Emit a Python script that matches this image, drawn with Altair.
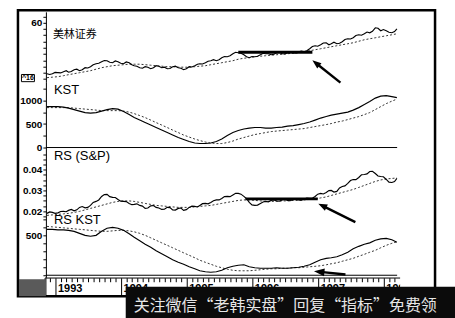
import altair as alt
import pandas as pd

# ---------------- data ----------------
_month = pd.date_range("1992-11-12", periods=65, freq=pd.DateOffset(months=1))
dates = [d.strftime("%Y-%m-%d") for d in _month]
mid_dates = [(d + pd.Timedelta(days=15)).strftime("%Y-%m-%d") for d in _month[:-1]]

price = [19.2, 19.2, 20.0, 20.8, 20.4, 22.4, 21.6, 24.0, 24.8, 27.2,
         28.8, 29.6, 28.0, 28.8, 27.2, 28.0, 25.6, 24.0, 24.8, 23.2,
         25.6, 24.0, 23.2, 24.8, 24.0, 22.4, 24.8, 25.6, 27.2, 28.0,
         29.6, 29.6, 32.0, 32.8, 35.2, 36.0, 34.4, 32.0, 32.8, 34.4,
         35.2, 34.4, 36.0, 35.2, 36.0, 36.0, 36.8, 36.8, 39.2, 41.6,
         42.4, 44.0, 43.2, 43.2, 44.8, 47.2, 48.0, 50.4, 51.2, 52.0,
         56.0, 53.6, 53.6, 52.0, 55.2]
price_mid = [18.6, 20.2, 19.8, 21.6, 21.0, 22.8, 22.4, 23.8, 26.4, 27.6,
             29.8, 28.4, 29.4, 27.6, 28.6, 26.4, 25.2, 23.6, 24.4, 24.0,
             25.2, 24.4, 23.4, 25.2, 23.6, 23.2, 24.6, 26.8, 27.0, 29.2,
             30.4, 30.4, 33.0, 33.6, 36.4, 35.6, 32.8, 33.0, 33.2, 35.6,
             35.2, 34.8, 36.4, 35.0, 36.6, 35.8, 37.4, 37.6, 41.0, 41.2,
             43.8, 42.4, 44.4, 43.6, 46.6, 47.0, 49.8, 50.0, 52.6, 53.2,
             55.6, 54.6, 52.4, 53.0]
price_ma = [16.0, 16.4, 16.8, 17.6, 18.4, 19.2, 20.0, 20.8, 21.6, 22.8,
            24.0, 24.8, 25.6, 26.0, 26.4, 26.8, 26.8, 26.8, 26.4, 26.0,
            25.6, 25.2, 24.8, 24.8, 24.4, 24.4, 24.4, 24.8, 25.2, 25.6,
            26.4, 27.2, 28.0, 28.8, 29.6, 30.8, 31.6, 32.0, 32.8, 33.2,
            33.6, 34.0, 34.4, 34.8, 35.2, 35.6, 36.0, 36.8, 37.6, 38.4,
            39.2, 40.0, 40.8, 41.6, 42.4, 43.2, 44.0, 45.2, 46.4, 47.2,
            48.0, 48.8, 49.6, 50.4, 51.2]
kst = [872, 872, 872, 862, 840, 809, 777, 745, 734, 745,
       777, 809, 830, 819, 766, 702, 638, 585, 532, 479,
       426, 372, 319, 266, 213, 170, 128, 96, 85, 85,
       96, 128, 181, 255, 319, 362, 394, 415, 426, 426,
       415, 415, 426, 436, 457, 468, 489, 511, 543, 585,
       628, 660, 691, 713, 734, 755, 798, 851, 915, 979,
       1053, 1096, 1106, 1085, 1064]
kst_ma = [851, 851, 851, 851, 851, 840, 830, 819, 809, 798,
          787, 787, 787, 787, 777, 755, 723, 681, 638, 585,
          532, 479, 426, 372, 319, 266, 223, 181, 149, 117,
          96, 85, 85, 106, 138, 181, 213, 245, 277, 298,
          319, 340, 351, 362, 372, 383, 394, 404, 426, 447,
          468, 489, 511, 543, 564, 596, 628, 660, 702, 745,
          809, 872, 936, 989, 1032]
rs = [0.01889, 0.01937, 0.01913, 0.01986, 0.02034, 0.02010, 0.02179, 0.02155, 0.02275, 0.02469,
      0.02710, 0.02807, 0.02662, 0.02565, 0.02469, 0.02372, 0.02324, 0.02275, 0.02130, 0.02251,
      0.02179, 0.02082, 0.02179, 0.02058, 0.02130, 0.02034, 0.02179, 0.02227, 0.02275, 0.02372,
      0.02420, 0.02541, 0.02614, 0.02710, 0.02783, 0.02855, 0.02710, 0.02420, 0.02275, 0.02372,
      0.02469, 0.02517, 0.02493, 0.02541, 0.02517, 0.02565, 0.02541, 0.02589, 0.02614, 0.02710,
      0.02855, 0.02903, 0.03000, 0.02952, 0.03193, 0.03338, 0.03531, 0.03628, 0.03773, 0.03918,
      0.03821, 0.03676, 0.03531, 0.03386, 0.03580]
rs_mid = [0.01960, 0.01890, 0.01980, 0.01970, 0.02080, 0.02060, 0.02220, 0.02180, 0.02420, 0.02540,
          0.02800, 0.02700, 0.02660, 0.02480, 0.02460, 0.02310, 0.02350, 0.02240, 0.02150, 0.02270,
          0.02150, 0.02090, 0.02170, 0.02050, 0.02150, 0.02070, 0.02240, 0.02200, 0.02360, 0.02350,
          0.02500, 0.02540, 0.02700, 0.02700, 0.02860, 0.02820, 0.02600, 0.02300, 0.02290, 0.02440,
          0.02450, 0.02540, 0.02480, 0.02560, 0.02500, 0.02590, 0.02530, 0.02630, 0.02620, 0.02820,
          0.02830, 0.02990, 0.02920, 0.03120, 0.03220, 0.03480, 0.03520, 0.03760, 0.03800, 0.03930,
          0.03700, 0.03660, 0.03400, 0.03430]
rs_ma = [0.01792, 0.01816, 0.01841, 0.01865, 0.01889, 0.01937, 0.01986, 0.02058, 0.02130, 0.02203,
         0.02275, 0.02348, 0.02420, 0.02469, 0.02493, 0.02493, 0.02469, 0.02420, 0.02372, 0.02324,
         0.02275, 0.02251, 0.02227, 0.02203, 0.02179, 0.02179, 0.02179, 0.02203, 0.02227, 0.02251,
         0.02275, 0.02324, 0.02372, 0.02420, 0.02469, 0.02517, 0.02541, 0.02541, 0.02517, 0.02493,
         0.02469, 0.02469, 0.02469, 0.02493, 0.02493, 0.02517, 0.02517, 0.02541, 0.02565, 0.02589,
         0.02638, 0.02686, 0.02758, 0.02831, 0.02903, 0.02976, 0.03048, 0.03145, 0.03242, 0.03338,
         0.03435, 0.03507, 0.03556, 0.03580, 0.03604]
rs_kst = [575, 575, 569, 569, 562, 550, 525, 500, 488, 500,
          550, 588, 600, 588, 562, 519, 475, 431, 388, 350,
          306, 269, 231, 194, 162, 138, 106, 81, 56, 44,
          38, 44, 62, 94, 112, 125, 131, 106, 94, 88,
          88, 88, 94, 88, 88, 94, 100, 112, 131, 162,
          194, 212, 219, 231, 256, 288, 331, 362, 388, 406,
          438, 456, 462, 444, 412]
rs_kst_ma = [612, 606, 600, 594, 588, 581, 575, 569, 562, 556,
             550, 550, 556, 562, 562, 556, 544, 525, 500, 469,
             438, 406, 375, 344, 312, 281, 250, 219, 188, 162,
             138, 112, 94, 75, 62, 56, 56, 56, 62, 69,
             75, 81, 81, 88, 88, 94, 94, 100, 106, 112,
             119, 131, 144, 156, 175, 194, 212, 238, 262, 288,
             312, 344, 375, 400, 419]

years = ["1993", "1994", "1995", "1996", "1997", "1998"]
year_dates = [f"{y}-01-01" for y in years]
month_dates = [d.strftime("%Y-%m-%d") for d in pd.date_range("1992-11-01", "1998-03-01", freq="MS") if d.month != 1]

titles = ["美林证券", "KST", "RS (S&P)", "RS KST"]
price_box_label = "^16"
watermark = "关注微信“老韩实盘”回复“指标”免费领"

# horizontal resistance lines
price_res_dates = ["1995-10-12", "1996-11-27"]
price_res_value = 36.4
rs_res_dates = ["1995-11-21", "1996-12-27"]
rs_res_value = 0.0259

# arrows: tail -> tip
price_arrow = {"tail_date": "1997-05-02", "tail": 12.0, "tip_date": "1996-11-27", "tip": 30.0}
rs_arrow = {"tail_date": "1997-07-24", "tail": 0.01469, "tip_date": "1996-12-30", "tip": 0.02357}
rskst_arrow = {"tail_date": "1997-05-30", "tail": 8.75, "tip_date": "1996-12-06", "tip": 50.0}

# ---------------- chart ----------------
W = 355
FONT = "Liberation Sans"

xscale = alt.Scale(type="utc", domain=[alt.DateTime(year=1992, month=11, date=6, utc=True),
                                        alt.DateTime(year=1998, month=3, date=30, utc=True)])

df = pd.DataFrame({"date": dates, "price": price, "price_ma": price_ma, "kst": kst, "kst_ma": kst_ma,
                   "rs": rs, "rs_ma": rs_ma, "rs_kst": rs_kst, "rs_kst_ma": rs_kst_ma})
# semi-monthly frame for the jagged price / relative-strength lines
df_semi = pd.concat([
    pd.DataFrame({"date": dates, "price": price, "rs": rs}),
    pd.DataFrame({"date": mid_dates, "price": price_mid, "rs": rs_mid}),
]).sort_values("date").reset_index(drop=True)

one = pd.DataFrame({"a": [0]})


def yaxis(values, expr):
    return alt.Axis(values=values, labelExpr=expr, tickSize=3, tickColor="black", tickWidth=1,
                    domainColor="black", domainWidth=1, labelFont=FONT, labelFontSize=10,
                    labelFontWeight="bold", labelColor="black", labelPadding=1, labelOverlap=False,
                    labelFlush=False, grid=False, title=None)


def series(col, ma_col, yscale, axis, line_df):
    ma = alt.Chart(df).mark_line(color="#333", strokeWidth=1, strokeDash=[2, 2]).encode(
        x=alt.X("date:T", scale=xscale, axis=None),
        y=alt.Y(f"{ma_col}:Q", scale=yscale, axis=axis))
    ln = alt.Chart(line_df).mark_line(color="black", strokeWidth=1.15).encode(
        x=alt.X("date:T", scale=xscale, axis=None),
        y=alt.Y(f"{col}:Q", scale=yscale, axis=axis))
    return [ma, ln]


def title_layer(text, x, y, size, font):
    return alt.Chart(pd.DataFrame({"t": [text]})).mark_text(
        align="left", baseline="middle", font=font, fontSize=size, color="black").encode(
        text="t:N", x=alt.value(x), y=alt.value(y))


def res_layer(ds, v, yscale, axis):
    d = pd.DataFrame({"t0": [ds[0]], "t1": [ds[1]], "v": [v]})
    return alt.Chart(d).mark_rule(color="black", strokeWidth=2.8).encode(
        x=alt.X("t0:T", scale=xscale, axis=None), x2="t1:T",
        y=alt.Y("v:Q", scale=yscale, axis=axis))


def arrow_layers(a, yscale, axis, size, angle):
    tip_t = pd.Timestamp(a["tip_date"])
    tail_t = pd.Timestamp(a["tail_date"])
    neck_t = tip_t + (tail_t - tip_t) * 0.2
    neck_v = a["tip"] + (a["tail"] - a["tip"]) * 0.2
    d = pd.DataFrame({"t0": [a["tail_date"]], "v0": [a["tail"]],
                      "t1": [neck_t.strftime("%Y-%m-%d")], "v1": [neck_v],
                      "tt": [a["tip_date"]], "tv": [a["tip"]]})
    shaft = alt.Chart(d).mark_rule(color="black", strokeWidth=2.4).encode(
        x=alt.X("t0:T", scale=xscale, axis=None), x2="t1:T",
        y=alt.Y("v0:Q", scale=yscale, axis=axis), y2="v1:Q")
    head = alt.Chart(d).mark_point(shape="M0,0L0.75,2L-0.75,2Z", filled=True, color="black",
                                   opacity=1, size=size, angle=angle).encode(
        x=alt.X("tt:T", scale=xscale, axis=None),
        y=alt.Y("tv:Q", scale=yscale, axis=axis))
    return [shaft, head]


def hline(col_val, yscale, axis):
    d = pd.DataFrame({"z": [col_val]})
    return alt.Chart(d).mark_rule(color="black", strokeWidth=1).encode(
        x=alt.value(0), x2=alt.value(352), y=alt.Y("z:Q", scale=yscale, axis=axis))


# panel 1: price
s1 = alt.Scale(domain=[12.8, 68.8], nice=False, zero=False)
a1 = yaxis(list(range(15, 70, 5)), "datum.value == 60 ? '60' : ''")
frame = alt.Chart(one).mark_rect(fillOpacity=0, stroke="black", strokeWidth=2.5).encode(
    x=alt.value(-28), x2=alt.value(390), y=alt.value(-1.5), y2=alt.value(285))
box = alt.Chart(one).mark_rect(fill="white", stroke="black", strokeWidth=1).encode(
    x=alt.value(-24.5), x2=alt.value(-11.5), y=alt.value(62.8), y2=alt.value(70))
box_text = alt.Chart(pd.DataFrame({"t": [price_box_label]})).mark_text(
    font=FONT, fontSize=7, fontWeight="bold", align="center", baseline="middle").encode(
    text="t:N", x=alt.value(-18), y=alt.value(66.5))
p1 = alt.layer(
    frame,
    *series("price", "price_ma", s1, a1, df_semi),
    res_layer(price_res_dates, price_res_value, s1, a1),
    *arrow_layers(price_arrow, s1, a1, 81, 309),
    title_layer(titles[0], 7, 23, 11, "Noto Sans CJK SC"),
    box, box_text,
).properties(width=W, height=70)

# panel 2: KST
s2 = alt.Scale(domain=[-85, 1404], nice=False, zero=False)
a2 = yaxis(list(range(0, 1401, 250)), "datum.value % 500 == 0 ? format(datum.value, 'd') : ''")
p2 = alt.layer(
    *series("kst", "kst_ma", s2, a2, df),
    hline(0, s2, a2),
    title_layer(titles[1], 8, 8, 13, FONT),
).properties(width=W, height=70)

# panel 3: RS (S&P)
s3 = alt.Scale(domain=[0.01744, 0.04884], nice=False, zero=False)
rs_ticks = [round(0.0175 + 0.0025 * i, 4) for i in range(13)]
a3 = yaxis(rs_ticks, "abs(datum.value*100 - round(datum.value*100)) < 0.001 ? format(datum.value, '.2f') : ''")
p3 = alt.layer(
    *series("rs", "rs_ma", s3, a3, df_semi),
    res_layer(rs_res_dates, rs_res_value, s3, a3),
    *arrow_layers(rs_arrow, s3, a3, 81, 296),
    title_layer(titles[2], 8, 5, 13, FONT),
).properties(width=W, height=65)

# panel 4: RS KST
s4 = alt.Scale(domain=[-25, 737.5], nice=False, zero=False)
a4 = yaxis(list(range(0, 701, 100)), "datum.value == 500 ? '500' : ''")
p4 = alt.layer(
    *series("rs_kst", "rs_kst_ma", s4, a4, df),
    hline(0, s4, a4),
    *arrow_layers(rskst_arrow, s4, a4, 110, 276),
    title_layer(titles[3], 8, 4, 13, FONT),
).properties(width=W, height=61)

# panel 5: time axis band (+ watermark banner)
top_line = alt.Chart(one).mark_rule(color="black", strokeWidth=1).encode(
    x=alt.value(0), x2=alt.value(355), y=alt.value(0.8))
left_line = alt.Chart(one).mark_rule(color="black", strokeWidth=1).encode(
    x=alt.value(0), y=alt.value(0), y2=alt.value(19))
month_ticks = alt.Chart(pd.DataFrame({"date": month_dates})).mark_rule(color="black", strokeWidth=1).encode(
    x=alt.X("date:T", scale=xscale, axis=None), y=alt.value(1), y2=alt.value(5))
ydf = pd.DataFrame({"date": year_dates, "label": years})
year_lines = alt.Chart(ydf).mark_rule(color="black", strokeWidth=1).encode(
    x=alt.X("date:T", scale=xscale, axis=None), y=alt.value(1), y2=alt.value(19))
year_labels = alt.Chart(ydf).mark_text(align="left", baseline="alphabetic", dx=2, font=FONT,
                                       fontSize=11, fontWeight="bold", color="black", clip=True).encode(
    x=alt.X("date:T", scale=xscale, axis=None), y=alt.value(15), text="label:N")
gray = alt.Chart(one).mark_rect(fill="#5a5a5a").encode(
    x=alt.value(-27), x2=alt.value(0), y=alt.value(2), y2=alt.value(19))
banner = alt.Chart(one).mark_rect(fill="#0b0b0b").encode(
    x=alt.value(80), x2=alt.value(410), y=alt.value(9.5), y2=alt.value(41))
banner_text = alt.Chart(pd.DataFrame({"t": [watermark]})).mark_text(
    align="left", baseline="middle", font="Noto Sans CJK SC", fontSize=16, color="#e6e6e6").encode(
    text="t:N", x=alt.value(88), y=alt.value(28.5))
p5 = alt.layer(top_line, left_line, month_ticks, year_lines, year_labels, gray, banner, banner_text
               ).properties(width=W, height=20)

chart = alt.vconcat(p1, p2, p3, p4, p5, spacing=0).properties(
    padding={"left": 16, "top": 8.5, "right": 0, "bottom": 0},
    bounds="flush",
    background="white",
).configure_view(stroke=None)

chart.save("out.html", embed_options={"renderer": "svg", "actions": False})
